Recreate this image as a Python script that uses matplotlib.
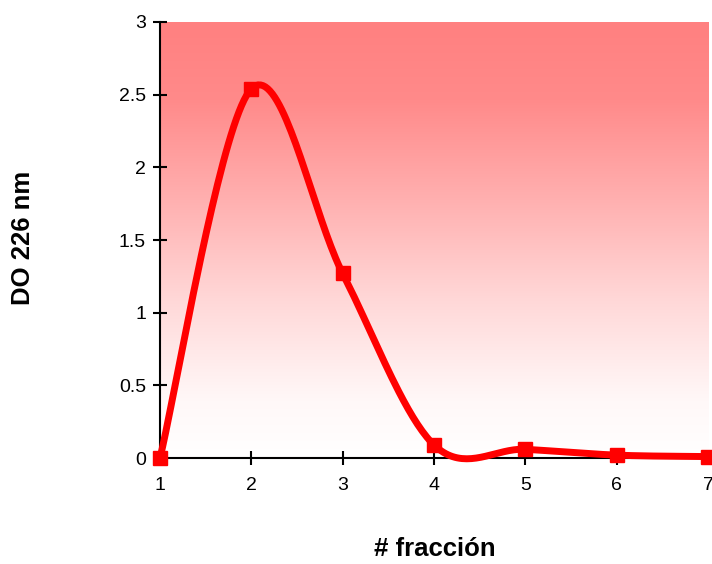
import numpy as np
import matplotlib
matplotlib.use("Agg")
import matplotlib.pyplot as plt
from matplotlib.colors import LinearSegmentedColormap
from matplotlib.ticker import FormatStrFormatter

plt.rcParams['font.family'] = ['Liberation Sans', 'DejaVu Sans']

fraccion = [1, 2, 3, 4, 5, 6, 7]
do226 = [0.0, 2.54, 1.27, 0.09, 0.06, 0.02, 0.01]


def suavizar(x, y, n=40):
    # curva suavizada tipo Excel (Bezier con puntos de control de Catmull-Rom)
    x = np.asarray(x, float)
    y = np.asarray(y, float)
    px = np.concatenate([[x[0]], x, [x[-1]]])
    py = np.concatenate([[y[0]], y, [y[-1]]])
    xs, ys = [], []
    t = np.linspace(0, 1, n)
    for i in range(1, len(px) - 2):
        p0 = np.array([px[i], py[i]])
        p3 = np.array([px[i + 1], py[i + 1]])
        c1 = p0 + (np.array([px[i + 1], py[i + 1]]) - np.array([px[i - 1], py[i - 1]])) / 6
        c2 = p3 - (np.array([px[i + 2], py[i + 2]]) - np.array([px[i], py[i]])) / 6
        seg = ((1 - t) ** 3)[:, None] * p0 + (3 * (1 - t) ** 2 * t)[:, None] * c1 \
            + (3 * (1 - t) * t ** 2)[:, None] * c2 + (t ** 3)[:, None] * p3
        xs.extend(seg[:, 0])
        ys.extend(seg[:, 1])
    return np.array(xs), np.array(ys)


fig = plt.figure(figsize=(7.12, 5.64), dpi=100)
ax = fig.add_axes([0.2247, 0.1879, 0.7697, 0.7731])

# fondo degradado rojo -> blanco
stops = [(0.0, (1, 1, 1)), (0.13, (1, 248 / 255, 248 / 255)), (0.36, (1, 216 / 255, 216 / 255)),
         (0.59, (1, 176 / 255, 176 / 255)), (0.82, (1, 138 / 255, 138 / 255)), (1.0, (1, 128 / 255, 128 / 255))]
cmap = LinearSegmentedColormap.from_list("fondo", stops)
grad = np.linspace(0, 1, 256).reshape(-1, 1)
ax.imshow(grad, cmap=cmap, aspect='auto', origin='lower',
          extent=[0, 1, 0, 1], transform=ax.transAxes, zorder=0)

xs, ys = suavizar(fraccion, do226)
ax.plot(xs, ys, color='#ff0000', lw=5, solid_capstyle='round', zorder=3, clip_on=False)
ax.plot(fraccion, do226, 's', color='#ff0000', ms=10, zorder=4, clip_on=False)

ax.set_xlim(1, 7)
ax.set_ylim(0, 3)
ax.set_xticks(fraccion)
ax.set_yticks([0, 0.5, 1, 1.5, 2, 2.5, 3])
ax.yaxis.set_major_formatter(FormatStrFormatter('%g'))

for s in ['top', 'right']:
    ax.spines[s].set_visible(False)
for s in ['left', 'bottom']:
    ax.spines[s].set_linewidth(1.5)
    ax.spines[s].set_zorder(2)
ax.tick_params(direction='inout', length=10, width=1.5, labelsize=14, pad=5)
ax.tick_params(axis='x', pad=9)

fig.text(0.611, 0.005, '# fracción', ha='center', va='bottom', fontsize=18.5, fontweight='bold')
fig.text(0.033, 0.578, 'DO 226 nm', ha='center', va='center', rotation=90, fontsize=18.5, fontweight='bold')

fig.savefig('out.png', dpi=100)
